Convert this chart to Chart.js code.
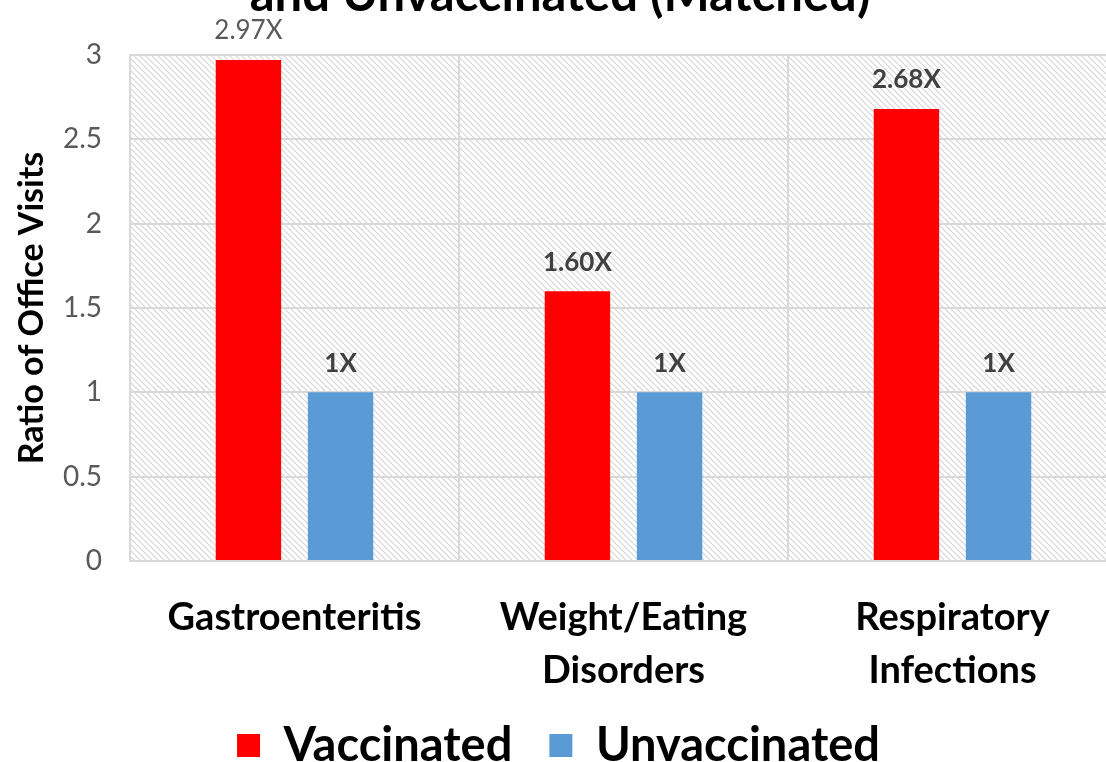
<!DOCTYPE html>
<html>
<head>
<meta charset="utf-8">
<script src="https://cdn.jsdelivr.net/npm/chart.js@4"></script>
<style>
	html, body { margin: 0; padding: 0; background: #fff; overflow: hidden; }
	#wrap { position: relative; width: 1130px; height: 779px; }
</style>
</head>
<body>
<div id="wrap"><canvas id="visits-chart"></canvas></div>
<script>
var categories = [["Gastroenteritis"], ["Weight/Eating", "Disorders"], ["Respiratory", "Infections"]];
var vaccinated = [2.97, 1.60, 2.68];
var unvaccinated = [1, 1, 1];
var vaccinatedLabels = ["2.97X", "1.60X", "2.68X"];
var unvaccinatedLabels = ["1X", "1X", "1X"];
var yTicks = [0, 0.5, 1, 1.5, 2, 2.5, 3];
var titleLine = "and Unvaccinated (Matched)";

var fontName = "Lato, 'Open Sans', sans-serif";

// diagonal hatch for the plot background
function hatch() {
	var c = document.createElement("canvas");
	c.width = 6;
	c.height = 6;
	var g = c.getContext("2d");
	g.fillStyle = "#ffffff";
	g.fillRect(0, 0, 6, 6);
	g.strokeStyle = "#d6d6d6";
	g.lineWidth = 1.2;
	g.beginPath();
	g.moveTo(-1, -1); g.lineTo(7, 7);
	g.moveTo(-4, 2); g.lineTo(4, 10);
	g.moveTo(2, -4); g.lineTo(10, 4);
	g.stroke();
	return g.createPattern(c, "repeat");
}

var hatchBackground = {
	id: "hatchBackground",
	beforeDraw: function (chart) {
		var a = chart.chartArea;
		var ctx = chart.ctx;
		ctx.save();
		ctx.fillStyle = hatch();
		ctx.fillRect(a.left, a.top, a.right - a.left, a.bottom - a.top);
		ctx.restore();
	}
};

var barLabels = {
	id: "barLabels",
	afterDatasetsDraw: function (chart) {
		var ctx = chart.ctx;
		ctx.save();
		ctx.textAlign = "center";
		ctx.textBaseline = "bottom";
		chart.data.datasets.forEach(function (ds, i) {
			chart.getDatasetMeta(i).data.forEach(function (bar, j) {
				var txt = ds.valueLabels[j];
				var plain = (i === 0 && j === 0);
				ctx.font = (plain ? "400 " : "700 ") + "26px " + fontName;
				ctx.fillStyle = plain ? "#595959" : "#404040";
				ctx.fillText(txt, bar.x, bar.y - 16);
			});
		});
		ctx.restore();
	}
};

// second line of the heading, cut by the top edge
var topTitle = {
	id: "topTitle",
	afterDraw: function (chart) {
		var ctx = chart.ctx;
		ctx.save();
		ctx.font = "700 49px " + fontName;
		ctx.fillStyle = "#000";
		ctx.textAlign = "center";
		ctx.textBaseline = "alphabetic";
		ctx.fillText(titleLine, 560, 11);
		ctx.restore();
	}
};

new Chart(document.getElementById("visits-chart").getContext("2d"), {
	type: "bar",
	data: {
		labels: categories,
		datasets: [{
			label: "Vaccinated",
			data: vaccinated,
			valueLabels: vaccinatedLabels,
			backgroundColor: "#ff0000",
			categoryPercentage: 0.56,
			barPercentage: 0.71
		}, {
			label: "Unvaccinated",
			data: unvaccinated,
			valueLabels: unvaccinatedLabels,
			backgroundColor: "#5b9bd5",
			categoryPercentage: 0.56,
			barPercentage: 0.71
		}]
	},
	options: {
		responsive: true,
		maintainAspectRatio: false,
		animation: false,
		layout: { padding: { top: 55, right: 13, left: 0, bottom: 0 } },
		scales: {
			x: {
				grid: { color: "#d9d9d9", lineWidth: 2, drawTicks: false },
				border: { color: "#d9d9d9", width: 2 },
				ticks: {
					color: "#000",
					padding: 30,
					maxRotation: 0,
					font: { family: fontName, size: 38, weight: "700", lineHeight: 1.4 }
				},
				afterFit: function (s) { s.height = 124; }
			},
			y: {
				min: 0,
				max: 3,
				afterBuildTicks: function (s) {
					s.ticks = yTicks.map(function (v) { return { value: v }; });
				},
				grid: { color: "#d9d9d9", lineWidth: 2, drawTicks: false },
				border: { color: "#d9d9d9", width: 2 },
				ticks: {
					color: "#595959",
					padding: 28,
					font: { family: fontName, size: 28 },
					callback: function (v) { return String(v); }
				},
				title: {
					display: true,
					text: "Ratio of Office Visits",
					color: "#000",
					font: { family: fontName, size: 34, weight: "700" },
					padding: { top: 12, bottom: 4 }
				},
				afterFit: function (s) { s.width = 130; }
			}
		},
		plugins: {
			legend: {
				position: "bottom",
				labels: {
					color: "#000",
					boxWidth: 23,
					boxHeight: 23,
					padding: 37,
					font: { family: fontName, size: 47, weight: "700" }
				}
			},
			tooltip: { enabled: false }
		}
	},
	plugins: [hatchBackground, barLabels, topTitle]
});
</script>
</body>
</html>
